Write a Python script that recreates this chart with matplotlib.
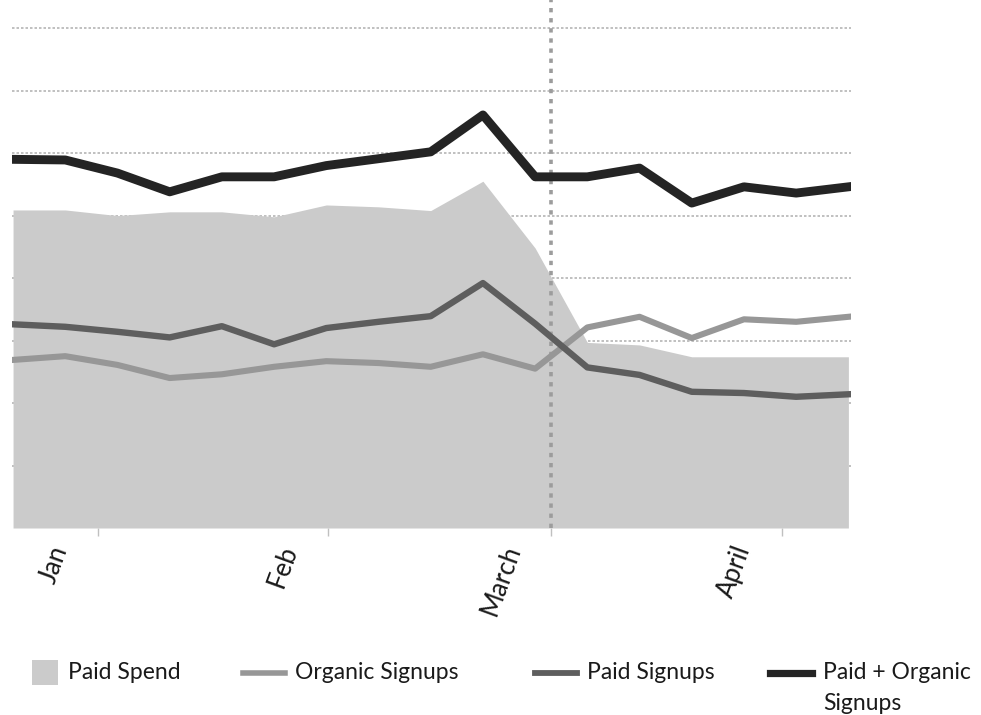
import matplotlib
matplotlib.use('Agg')
import matplotlib.pyplot as plt
import matplotlib.transforms as mtransforms
from matplotlib.lines import Line2D
from matplotlib.patches import Rectangle

# ---- data (weekly points) ----
weeks = list(range(17))
paid_spend = [5.09, 5.09, 5.00, 5.06, 5.06, 4.98, 5.17, 5.14, 5.08, 5.55,
              4.48, 2.97, 2.93, 2.74, 2.74, 2.74, 2.74]
organic_signups = [2.69, 2.75, 2.61, 2.40, 2.46, 2.58, 2.67, 2.64, 2.58, 2.78,
                   2.55, 3.21, 3.38, 3.04, 3.34, 3.30, 3.38]
paid_signups = [3.26, 3.22, 3.14, 3.05, 3.23, 2.94, 3.20, 3.30, 3.39, 3.92,
                3.27, 2.57, 2.45, 2.18, 2.16, 2.10, 2.14]
total_signups = [5.90, 5.89, 5.68, 5.38, 5.62, 5.62, 5.80, 5.91, 6.02, 6.61,
                 5.62, 5.62, 5.76, 5.20, 5.46, 5.36, 5.46]
month_labels = ['Jan', 'Feb', 'March', 'April']
month_pos = [1.63, 6.03, 10.3, 14.72]
marker_pos = 10.3
grid_levels = [1, 2, 3, 4, 5, 6, 7, 8]

legend_labels = ['Paid Spend', 'Organic Signups', 'Paid Signups', 'Paid + Organic\nSignups']

# ---- style ----
c_area = '#cbcbcb'
c_org = '#979797'
c_paid = '#5e5e5e'
c_total = '#242424'

plt.rcParams['font.family'] = ['Lato', 'DejaVu Sans']

W, H = 981, 715
fig = plt.figure(figsize=(W / 100, H / 100), dpi=100)
ax = fig.add_axes([12 / W, 1 - 528 / H, (851 - 12) / W, 528 / H])
ax.set_xlim(-0.02, 16.05)
ax.set_ylim(0, 8.45)

ax.set_yticks(grid_levels)
ax.grid(axis='y', color='#b5b5b5', linestyle=(0, (1.5, 1.2)), linewidth=1.2)
ax.set_axisbelow(True)

ax.fill_between(weeks, paid_spend, 0, color=c_area, lw=0, zorder=1)
ax.axvline(marker_pos, color='#9c9c9c', ls=(0, (1.2, 1.6)), lw=2.6, zorder=2)
ax.plot(weeks, organic_signups, color=c_org, lw=4.4, zorder=3, solid_joinstyle='round')
ax.plot(weeks, paid_signups, color=c_paid, lw=4.6, zorder=4, solid_joinstyle='round')
ax.plot(weeks, total_signups, color=c_total, lw=6.4, zorder=5, solid_joinstyle='round')

for s in ax.spines.values():
    s.set_visible(False)
ax.tick_params(axis='y', left=False, labelleft=False)
ax.set_xticks(month_pos, month_labels, rotation=70, ha='right', va='top')
ax.tick_params(axis='x', length=6, color='#c0c0c0', width=1, pad=4,
               labelsize=18.5, labelcolor='#1a1a1a')
offset = mtransforms.ScaledTranslation(-26 / 100, 0, fig.dpi_scale_trans)
for lab in ax.get_xticklabels():
    lab.set_transform(lab.get_transform() + offset)

# ---- legend (manual, pixel layout) ----
def fx(px):
    return px / W

def fy(py):
    return 1 - py / H

fig.add_artist(Rectangle((fx(32), fy(685)), 26 / W, 25 / H,
                         transform=fig.transFigure, color=c_area, lw=0))
handle_specs = [(243, 285, c_org, 4.0), (535, 577, c_paid, 4.2), (770, 812, c_total, 5.2)]
for x0, x1, c, lw in handle_specs:
    fig.add_artist(Line2D([fx(x0), fx(x1)], [fy(673), fy(673)],
                          transform=fig.transFigure, color=c, lw=lw))
text_x = [68, 295, 587, 823]
for tx, lab in zip(text_x, legend_labels):
    fig.text(fx(tx), fy(662), lab, ha='left', va='top', fontsize=16.5,
             color='#1a1a1a', linespacing=1.58)

fig.savefig('out.png', dpi=100)
